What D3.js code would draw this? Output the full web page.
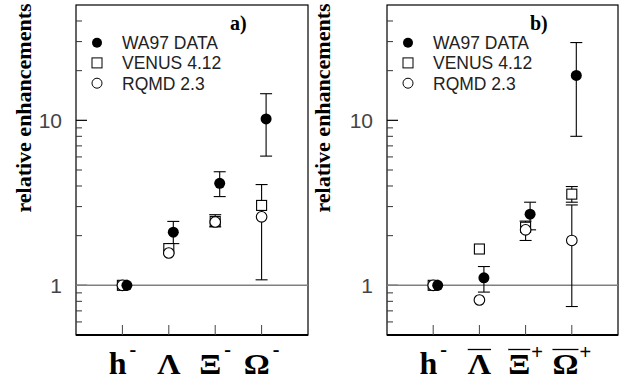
<!DOCTYPE html>
<html>
<head>
<meta charset="utf-8">
<script src="https://cdn.jsdelivr.net/npm/d3@7"></script>
<style>
  body { margin: 0; background: #fff; }
  svg { display: block; }
</style>
</head>
<body>
<div id="chart"></div>
<script>
// particle labels (base glyph, superscript, overline)
var labelsA = ["h", "Λ", "Ξ", "Ω"]
var supsA = ["-", "", "-", "-"]
var barsA = [false, false, false, false]
var labelsB = ["h", "Λ", "Ξ", "Ω"]
var supsB = ["-", "", "+", "+"]
var barsB = [false, true, true, true]

// panel a) values, null = no error bar
var wa97A = [1, 2.1, 4.15, 10.2]
var wa97A_lo = [null, 1.79, 3.45, 6.07]
var wa97A_hi = [null, 2.44, 4.88, 14.5]
var venusA = [1, 1.67, 2.44, 3.05]
var venusA_lo = [null, null, 2.26, null]
var venusA_hi = [null, null, 2.68, null]
var rqmdA = [1, 1.57, 2.42, 2.6]
var rqmdA_lo = [null, null, null, 1.08]
var rqmdA_hi = [null, null, null, 4.08]

// panel b) values
var wa97B = [1, 1.11, 2.70, 18.7]
var wa97B_lo = [null, 0.91, 2.17, 8.0]
var wa97B_hi = [null, 1.30, 3.19, 29.6]
var venusB = [1, 1.66, 2.25, 3.57]
var venusB_lo = [null, null, 1.87, 3.19]
var venusB_hi = [null, null, 2.45, 3.97]
var rqmdB = [1, 0.815, 2.17, 1.87]
var rqmdB_lo = [null, null, null, 0.744]
var rqmdB_hi = [null, null, null, 3.07]

var yDomain = [0.5, 50]
var majorTicks = [1, 10]
var majorLabels = ["1", "10"]
var minorTicks = [0.6, 0.7, 0.8, 0.9, 2, 3, 4, 5, 6, 7, 8, 9, 20, 30, 40]
var legendNames = ["WA97 DATA", "VENUS 4.12", "RQMD 2.3"]

var W = 627, H = 382
var svg = d3.select("#chart").append("svg")
    .attr("width", W)
    .attr("height", H)

var top_ = 5, bottom_ = 335

function drawPanel(p) {
    var x = d3.scaleLinear().domain([0, 5]).range([p.left, p.right])
    var y = d3.scaleLog().domain(yDomain).range([bottom_, top_])
    var g = svg.append("g")

    // y label
    g.append("text")
        .attr("transform", "translate(" + p.ylabX + ",108) rotate(-90)")
        .attr("text-anchor", "middle")
        .style("font-family", "'Liberation Serif', 'Times New Roman', serif")
        .style("font-weight", "bold")
        .style("font-size", "22px")
        .text("relative enhancements")

    // frame
    g.append("rect")
        .attr("x", p.left).attr("y", top_)
        .attr("width", p.right - p.left).attr("height", bottom_ - top_)
        .attr("fill", "none").attr("stroke", "#000").attr("stroke-width", 1.2)
    g.append("line")
        .attr("x1", p.left).attr("x2", p.right)
        .attr("y1", bottom_).attr("y2", bottom_)
        .attr("stroke", "#000").attr("stroke-width", 2)

    // y ticks
    g.selectAll(".minor").data(minorTicks).enter().append("line")
        .attr("x1", p.left).attr("x2", p.left + 6)
        .attr("y1", function(d) { return y(d) }).attr("y2", function(d) { return y(d) })
        .attr("stroke", "#333").attr("stroke-width", 1)
    g.selectAll(".major").data(majorTicks).enter().append("line")
        .attr("x1", p.left).attr("x2", p.left + 11)
        .attr("y1", function(d) { return y(d) }).attr("y2", function(d) { return y(d) })
        .attr("stroke", "#000").attr("stroke-width", 1.2)
    g.selectAll(".ylab").data(majorTicks).enter().append("text")
        .attr("x", p.left - 14)
        .attr("y", function(d) { return y(d) })
        .attr("dy", "0.36em")
        .attr("text-anchor", "end")
        .style("font-family", "'Liberation Sans', Arial, sans-serif")
        .style("font-size", "21px")
        .attr("fill", "#444")
        .text(function(d, i) { return majorLabels[i] })

    // line at 1
    g.append("line")
        .attr("x1", p.left).attr("x2", p.right)
        .attr("y1", y(1)).attr("y2", y(1))
        .attr("stroke", "#808080").attr("stroke-width", 1.5)

    // x ticks
    g.selectAll(".xt").data(p.labels).enter().append("line")
        .attr("x1", function(d, i) { return x(i + 1) }).attr("x2", function(d, i) { return x(i + 1) })
        .attr("y1", bottom_).attr("y2", bottom_ - 10)
        .attr("stroke", "#444").attr("stroke-width", 1)

    // x labels
    p.labels.forEach(function(lab, i) {
        var lg = g.append("g")
        var isH = lab == "h"
        var sx = isH ? 1 : 1.12
        var base = lg.append("text")
            .attr("x", 0).attr("y", 374)
            .attr("transform", "scale(" + sx + ",1)")
            .style("font-family", "'Liberation Serif', 'Times New Roman', serif")
            .style("font-weight", "bold")
            .style("font-size", isH ? "32px" : "29px")
            .text(lab)
        var bw = base.node().getComputedTextLength() * sx
        var sw = 0
        if (p.sups[i]) {
            var plus = p.sups[i] == "+"
            var gap = plus ? 1 : 3
            var s = lg.append("text")
                .attr("x", bw + gap)
                .attr("y", plus ? 359 : 356)
                .style("font-family", plus ? "'Liberation Sans', Arial, sans-serif" : "'Liberation Serif', serif")
                .style("font-weight", plus ? "normal" : "bold")
                .style("font-size", "20px")
                .text(p.sups[i])
            sw = s.node().getComputedTextLength() + gap
        }
        if (p.bars[i]) {
            lg.append("line")
                .attr("x1", 0).attr("x2", bw)
                .attr("y1", 349.5).attr("y2", 349.5)
                .attr("stroke", "#000").attr("stroke-width", 1.3)
        }
        lg.attr("transform", "translate(" + (x(i + 1) - (bw + sw) / 2) + ",0)")
    })

    // error bars
    function errs(vals, lo, hi, dx) {
        var idx = d3.range(vals.length).filter(function(i) { return lo[i] != null })
        var eg = g.append("g").attr("stroke", "#000").attr("stroke-width", 1.1)
        eg.selectAll(".v").data(idx).enter().append("line")
            .attr("x1", function(i) { return x(i + 1) + dx }).attr("x2", function(i) { return x(i + 1) + dx })
            .attr("y1", function(i) { return y(lo[i]) }).attr("y2", function(i) { return y(hi[i]) })
        eg.selectAll(".lo").data(idx).enter().append("line")
            .attr("x1", function(i) { return x(i + 1) + dx - 6 }).attr("x2", function(i) { return x(i + 1) + dx + 6 })
            .attr("y1", function(i) { return y(lo[i]) }).attr("y2", function(i) { return y(lo[i]) })
        eg.selectAll(".hi").data(idx).enter().append("line")
            .attr("x1", function(i) { return x(i + 1) + dx - 6 }).attr("x2", function(i) { return x(i + 1) + dx + 6 })
            .attr("y1", function(i) { return y(hi[i]) }).attr("y2", function(i) { return y(hi[i]) })
    }
    errs(p.rqmd, p.rqmd_lo, p.rqmd_hi, 0)
    errs(p.venus, p.venus_lo, p.venus_hi, 0)
    errs(p.wa97, p.wa97_lo, p.wa97_hi, 4.5)

    // markers
    g.selectAll(".sq").data(p.venus).enter().append("rect")
        .attr("x", function(d, i) { return x(i + 1) - 5 })
        .attr("y", function(d) { return y(d) - 5 })
        .attr("width", 10).attr("height", 10)
        .attr("fill", "#fff").attr("stroke", "#000").attr("stroke-width", 1.1)
    g.selectAll(".oc").data(p.rqmd).enter().append("circle")
        .attr("cx", function(d, i) { return x(i + 1) })
        .attr("cy", function(d) { return y(d) })
        .attr("r", 5.3)
        .attr("fill", "#fff").attr("stroke", "#000").attr("stroke-width", 1.1)
    g.selectAll(".fc").data(p.wa97).enter().append("circle")
        .attr("cx", function(d, i) { return x(i + 1) + 4.5 })
        .attr("cy", function(d) { return y(d) })
        .attr("r", 5.5)
        .attr("fill", "#000")

    // legend
    var lx = p.left + 21
    var rows = [42.7, 62.9, 83.2]
    g.append("circle").attr("cx", lx).attr("cy", rows[0]).attr("r", 5).attr("fill", "#000")
    g.append("rect").attr("x", lx - 5).attr("y", rows[1] - 5).attr("width", 10).attr("height", 10)
        .attr("fill", "none").attr("stroke", "#000").attr("stroke-width", 1)
    g.append("circle").attr("cx", lx).attr("cy", rows[2]).attr("r", 5)
        .attr("fill", "none").attr("stroke", "#000").attr("stroke-width", 1)
    g.selectAll(".leg").data(legendNames).enter().append("text")
        .attr("x", p.left + 46)
        .attr("y", function(d, i) { return rows[i] + 6.3 })
        .style("font-family", "'Liberation Sans', Arial, sans-serif")
        .style("font-size", "17.5px")
        .attr("fill", "#222")
        .text(function(d) { return d })

    // panel letter
    g.append("text")
        .attr("x", p.letterX).attr("y", 30)
        .style("font-family", "'Liberation Serif', 'Times New Roman', serif")
        .style("font-weight", "bold")
        .style("font-size", "20px")
        .text(p.letter)
}

drawPanel({
    left: 76, right: 308, ylabX: 30.5, letter: "a)", letterX: 230,
    labels: labelsA, sups: supsA, bars: barsA,
    wa97: wa97A, wa97_lo: wa97A_lo, wa97_hi: wa97A_hi,
    venus: venusA, venus_lo: venusA_lo, venus_hi: venusA_hi,
    rqmd: rqmdA, rqmd_lo: rqmdA_lo, rqmd_hi: rqmdA_hi
})
drawPanel({
    left: 387, right: 618, ylabX: 330, letter: "b)", letterX: 530,
    labels: labelsB, sups: supsB, bars: barsB,
    wa97: wa97B, wa97_lo: wa97B_lo, wa97_hi: wa97B_hi,
    venus: venusB, venus_lo: venusB_lo, venus_hi: venusB_hi,
    rqmd: rqmdB, rqmd_lo: rqmdB_lo, rqmd_hi: rqmdB_hi
})
</script>
</body>
</html>
